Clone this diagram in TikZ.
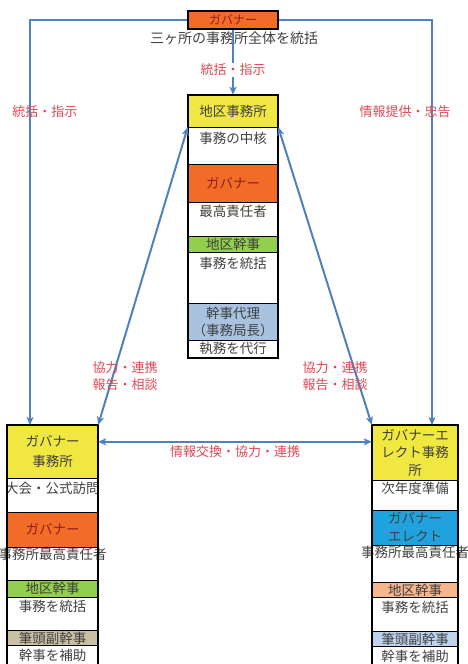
\documentclass[tikz,border=0pt]{standalone}
\usepackage{fontspec}
\setmainfont{Noto Sans CJK JP}
\usetikzlibrary{arrows.meta,positioning}
\definecolor{linkblue}{RGB}{79,129,189}
\definecolor{labelred}{RGB}{222,72,84}
\definecolor{bandyellow}{RGB}{240,232,64}
\definecolor{bandorange}{RGB}{242,108,40}
\definecolor{bandgreen}{RGB}{146,206,80}
\definecolor{bandlblue}{RGB}{168,194,224}
\definecolor{bandblue}{RGB}{32,162,222}
\definecolor{bandsalmon}{RGB}{247,182,140}
\definecolor{bandpale}{RGB}{190,212,238}
\definecolor{bandtan}{RGB}{200,192,162}
\definecolor{textgray}{RGB}{64,64,64}
\definecolor{textred}{RGB}{140,30,30}
\tikzstyle{link} = [linkblue, line width=2pt, ->, >={Stealth[length=8pt,width=7pt,inset=2pt]}]
\tikzstyle{both} = [link, <->]
\tikzstyle{band} = [draw, line width=0.6pt, inner sep=0pt, align=center, text=textgray]
\tikzstyle{frame} = [draw, line width=1.6pt, inner sep=0pt]
\tikzstyle{note} = [text=textgray, inner sep=0pt]
\tikzstyle{tag} = [text=labelred, align=center, inner sep=0pt, font=\fontsize{13}{17}\selectfont]

\begin{document}
\begin{tikzpicture}[x=1pt, y=-1pt, font=\fontsize{13.5}{19}\selectfont]
    \useasboundingbox (0,0) rectangle (468,664);

    \node (gov) [frame, fill=bandorange, text=textred, minimum width=90pt, minimum height=18pt, font=\fontsize{12}{14}\selectfont] at (233,20) {ガバナー};
    \node (all) [note, font=\fontsize{14}{16}\selectfont] at (234,38) {三ヶ所の事務所全体を統括};

    \node (chead) [band, fill=bandyellow, minimum width=90pt, minimum height=32pt] at (233,111) {地区事務所};
    \node (cgov)  [band, fill=bandorange, text=textred, minimum width=90pt, minimum height=38pt] at (233,183) {ガバナー};
    \node (csec)  [band, fill=bandgreen, minimum width=90pt, minimum height=16pt] at (233,244) {地区幹事};
    \node (cdep)  [band, fill=bandlblue, minimum width=90pt, minimum height=37pt, font=\fontsize{13.5}{17}\selectfont] at (233,321.5) {幹事代理\\（事務局長）};
    \node [note, below=5pt of chead] {事務の中核};
    \node [note, below=3pt of cgov]  {最高責任者};
    \node [note, below=5pt of csec]  {事務を統括};
    \node [note, below=2pt of cdep]  {執務を代行};
    \node (cbox) [frame, minimum width=90pt, minimum height=263pt] at (233,226.5) {};

    \node (lhead) [band, fill=bandyellow, minimum width=91pt, minimum height=53pt, font=\fontsize{13.5}{20}\selectfont] at (52.5,451.5) {ガバナー\\事務所};
    \node (lgov)  [band, fill=bandorange, text=textred, minimum width=91pt, minimum height=35pt] at (52.5,529.5) {ガバナー};
    \node (lsec)  [band, fill=bandgreen, minimum width=91pt, minimum height=17pt] at (52.5,588.5) {地区幹事};
    \node (lsub)  [band, fill=bandtan, minimum width=91pt, minimum height=15pt] at (52.5,638) {筆頭副幹事};
    \node [note, below=4pt of lhead] {大会・公式訪問};
    \node [note, below=1pt of lgov]  {事務所最高責任者};
    \node [note, below=3pt of lsec]  {事務を統括};
    \node [note, below=3pt of lsub]  {幹事を補助};
    \node (lbox) [minimum width=91pt, minimum height=239pt, inner sep=0pt] at (52.5,544.5) {};
    \draw [line width=1.6pt] (lbox.south west) |- (lbox.north east) -- (lbox.south east);

    \node (rhead) [band, fill=bandyellow, minimum width=86pt, minimum height=55pt, font=\fontsize{13.5}{17.5}\selectfont] at (415,452.5) {ガバナーエ\\レクト事務\\所};
    \node (rgov)  [band, fill=bandblue, minimum width=86pt, minimum height=35pt, font=\fontsize{13.5}{18}\selectfont] at (415,527.5) {ガバナー\\エレクト};
    \node (rsec)  [band, fill=bandsalmon, minimum width=86pt, minimum height=15pt] at (415,590) {地区幹事};
    \node (rsub)  [band, fill=bandpale, minimum width=86pt, minimum height=15pt] at (415,639) {筆頭副幹事};
    \node [note, below=2pt of rhead] {次年度準備};
    \node [note, below=1pt of rgov]  {事務所最高責任者};
    \node [note, below=3pt of rsec]  {事務を統括};
    \node [note, below=3pt of rsub]  {幹事を補助};
    \node (rbox) [minimum width=86pt, minimum height=239pt, inner sep=0pt] at (415,544.5) {};
    \draw [line width=1.6pt] (rbox.south west) |- (rbox.north east) -- (rbox.south east);

    \coordinate (ltip) at (30,425);
    \coordinate (rtip) at (432,425);
    \draw [link] (gov.west) -| (ltip);
    \draw [link] (gov.east) -| (rtip);
    \draw [link] (gov.south) -- (chead.north);
    \node [tag, fill=white, inner sep=1pt] at (233,70) {統括・指示};
    \draw [both] (chead.south west) -- (lbox.north east);
    \draw [both] (chead.south east) -- (rbox.north west);
    \draw [both] ([yshift=-17pt]lbox.north east) -- ([yshift=-17pt]rbox.north west);

    \node [tag] at (45,112)  {統括・指示};
    \node [tag] at (405,112) {情報提供・忠告};
    \node [tag] at (125,376) {協力・連携\\報告・相談};
    \node [tag] at (335,376) {協力・連携\\報告・相談};
    \node [tag] at (235,452) {情報交換・協力・連携};
\end{tikzpicture}
\end{document}
